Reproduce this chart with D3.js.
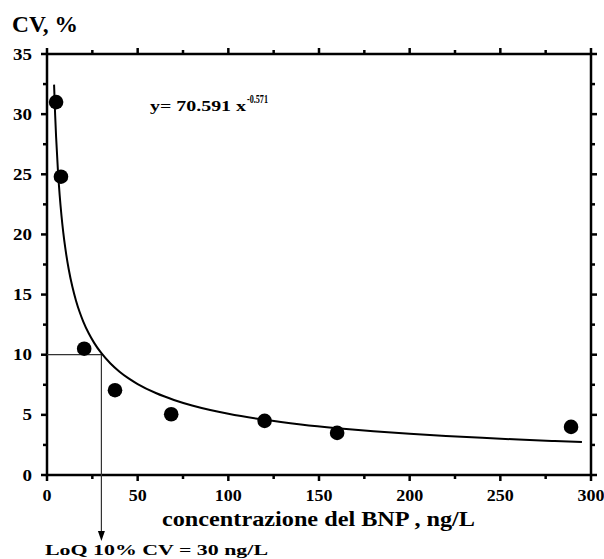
<!DOCTYPE html>
<html><head><meta charset="utf-8">
<script src="https://cdn.jsdelivr.net/npm/d3@7"></script>
<style>body{margin:0;background:#fff}svg{display:block}text{font-family:"Liberation Serif","Times New Roman",serif;font-weight:bold;fill:#000}</style>
</head><body><svg id="c" width="604" height="559"></svg>
<script>
// data
const concBNP = [5, 7.7, 20.5, 37.5, 68.5, 120, 160, 289];
const cvValues = [31, 24.8, 10.5, 7.05, 5.05, 4.5, 3.5, 4.0];
const fitCoef = 70.591, fitExp = -0.571;
const fitXs = [3.9,4.5,5,6,7,8,9,10,12,14,16,18,20,23,26,30,35,40,45,50,60,70,80,90,100,120,140,160,180,200,220,240,260,280,295];
const xTicks = [0,50,100,150,200,250,300];
const yTicks = [0,5,10,15,20,25,30,35];
const loq = {x:30, y:10};

const svg = d3.select("#c");
const L=47,R=591,T=54,B=475;
const x = d3.scaleLinear().domain([0,300]).range([L,R]);
const y = d3.scaleLinear().domain([0,35]).range([B,T]);

const xMinor = d3.range(25,300,50), yMinor = d3.range(2.5,35,5);
const g = svg.append("g");
function ticks(vals, len, sc, orient){
  vals.forEach(v=>{
    if(orient==="b") g.append("line").attr("x1",sc(v)).attr("x2",sc(v)).attr("y1",B).attr("y2",B+len);
    if(orient==="t") g.append("line").attr("x1",sc(v)).attr("x2",sc(v)).attr("y1",T).attr("y2",T-len);
    if(orient==="l") g.append("line").attr("y1",sc(v)).attr("y2",sc(v)).attr("x1",L).attr("x2",L-len);
    if(orient==="r") g.append("line").attr("y1",sc(v)).attr("y2",sc(v)).attr("x1",R).attr("x2",R+len);
  });
}
ticks(xTicks,6,x,"b");ticks(xMinor,4,x,"b");ticks(xTicks,6,x,"t");ticks(xMinor,4,x,"t");
ticks(yTicks,6,y,"l");ticks(yMinor,4,y,"l");ticks(yTicks,6,y,"r");ticks(yMinor,4,y,"r");
g.selectAll("line").attr("stroke","#000").attr("stroke-width",2.5);

svg.append("rect").attr("x",L).attr("y",T).attr("width",R-L).attr("height",B-T)
  .attr("fill","none").attr("stroke","#000").attr("stroke-width",2.5);

svg.selectAll(".xl").data(xTicks).enter().append("text")
  .attr("x",d=>x(d)).attr("y",501).attr("text-anchor","middle").attr("font-size",16.5)
  .attr("textLength",d=>String(d).length*9).attr("lengthAdjust","spacingAndGlyphs").text(d=>d);
svg.selectAll(".yl").data(yTicks).enter().append("text")
  .attr("x",32).attr("y",d=>y(d)+5.5).attr("text-anchor","end").attr("font-size",16.5)
  .attr("textLength",d=>String(d).length*9.5).attr("lengthAdjust","spacingAndGlyphs").text(d=>d);

// LoQ lines
svg.append("path").attr("d",`M${x(0)},${y(loq.y)}H${x(loq.x)}V${B}`)
  .attr("fill","none").attr("stroke","#333").attr("stroke-width",1.2);
svg.append("line").attr("x1",x(loq.x)).attr("x2",x(loq.x)).attr("y1",B).attr("y2",533)
  .attr("stroke","#333").attr("stroke-width",1.2);
svg.append("path").attr("d",`M${x(loq.x)-3.5},531L${x(loq.x)+3.5},531L${x(loq.x)},541Z`).attr("fill","#000");

// fit curve
const line = d3.line().x(d=>x(d)).y(d=>y(fitCoef*Math.pow(d,fitExp))).curve(d3.curveMonotoneX);
svg.append("path").datum(fitXs).attr("d",line).attr("fill","none").attr("stroke","#000").attr("stroke-width",2);

// points
svg.selectAll(".pt").data(concBNP).enter().append("circle")
  .attr("cx",d=>x(d)).attr("cy",(d,i)=>y(cvValues[i])).attr("r",7.3).attr("fill","#000");

// equation
svg.append("text").attr("x",150).attr("y",111).attr("font-size",15.5)
  .attr("textLength",96).attr("lengthAdjust","spacingAndGlyphs").text("y= 70.591 x");
svg.append("text").attr("x",247).attr("y",103).attr("font-size",11.5)
  .attr("textLength",21).attr("lengthAdjust","spacingAndGlyphs").text("-0.571");

svg.append("text").attr("x",12).attr("y",32).attr("font-size",24)
  .attr("textLength",66).attr("lengthAdjust","spacingAndGlyphs").text("CV, %");
svg.append("text").attr("x",162).attr("y",526).attr("font-size",21)
  .attr("textLength",313).attr("lengthAdjust","spacingAndGlyphs").text("concentrazione del BNP , ng/L");
svg.append("text").attr("x",45).attr("y",555).attr("font-size",15)
  .attr("textLength",223).attr("lengthAdjust","spacingAndGlyphs").text("LoQ 10% CV = 30 ng/L");
</script></body></html>
